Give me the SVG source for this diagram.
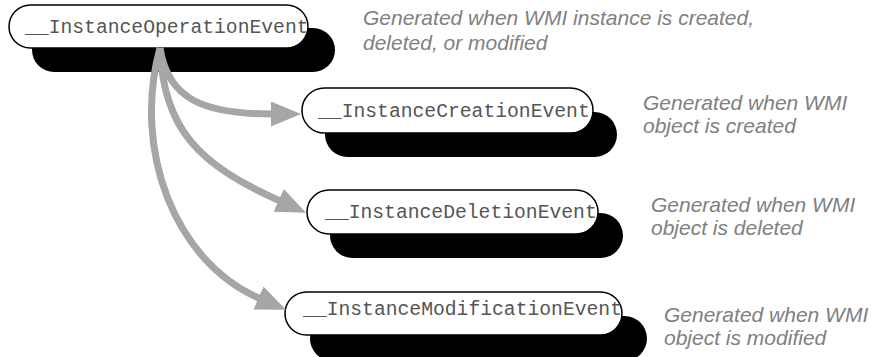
<svg xmlns="http://www.w3.org/2000/svg" width="875" height="357" viewBox="0 0 875 357">
<defs>
<style>
.shadow{fill:#000}
.pill{fill:#fff;stroke:#000;stroke-width:1.5}
.cls{font-family:"Liberation Mono","Courier New",monospace;font-size:19.7px;fill:#555}
.note{font-family:"Liberation Sans",Arial,sans-serif;font-style:italic;font-size:21px;fill:#808080}
.conn{fill:none;stroke:#a6a6a6;stroke-width:7}
</style>
<marker id="head" markerUnits="userSpaceOnUse" markerWidth="31" markerHeight="26" refX="1" refY="12.5" orient="auto">
<path d="M0,0 L30,12.5 L0,25 z" fill="#a6a6a6"/>
</marker>
</defs>
<rect width="875" height="357" fill="#fff"/>
<g id="node-operation">
<rect class="shadow" x="32" y="28" width="303" height="44" rx="22"/>
<rect class="pill" x="9" y="5" width="299" height="43" rx="21.5"/>
<text class="cls" x="25" y="33">__InstanceOperationEvent</text>
</g>
<g id="node-creation">
<rect class="shadow" x="325" y="112" width="292" height="45" rx="22.5"/>
<rect class="pill" x="302" y="88" width="291" height="45" rx="22.5"/>
<text class="cls" x="318" y="117">__InstanceCreationEvent</text>
</g>
<g id="node-deletion">
<rect class="shadow" x="330" y="213" width="293" height="45" rx="22.5"/>
<rect class="pill" x="307" y="190" width="291" height="44" rx="22"/>
<text class="cls" x="325" y="218">__InstanceDeletionEvent</text>
</g>
<g id="node-modification">
<rect class="shadow" x="310" y="316" width="337" height="45" rx="22.5"/>
<rect class="pill" x="285" y="292" width="337" height="43" rx="21.5"/>
<text class="cls" x="303" y="315">__InstanceModificationEvent</text>
</g>
<g id="notes">
<text class="note" x="363" y="25">Generated when WMI instance is created,</text>
<text class="note" x="363" y="50">deleted, or modified</text>
<text class="note" x="643" y="110">Generated when WMI</text>
<text class="note" x="643" y="133">object is created</text>
<text class="note" x="651" y="212">Generated when WMI</text>
<text class="note" x="651" y="235">object is deleted</text>
<text class="note" x="664" y="322">Generated when WMI</text>
<text class="note" x="664" y="345">object is modified</text>
</g>
<g id="connectors">
<path class="conn" d="M160,48 C168,100 205,114 272,114" marker-end="url(#head)"/>
<path class="conn" d="M160,48 C163,130 200,165 279.6,200.8" marker-end="url(#head)"/>
<path class="conn" d="M160,48 C132,150 175,262 259.4,298.3" marker-end="url(#head)"/>
</g>
</svg>
